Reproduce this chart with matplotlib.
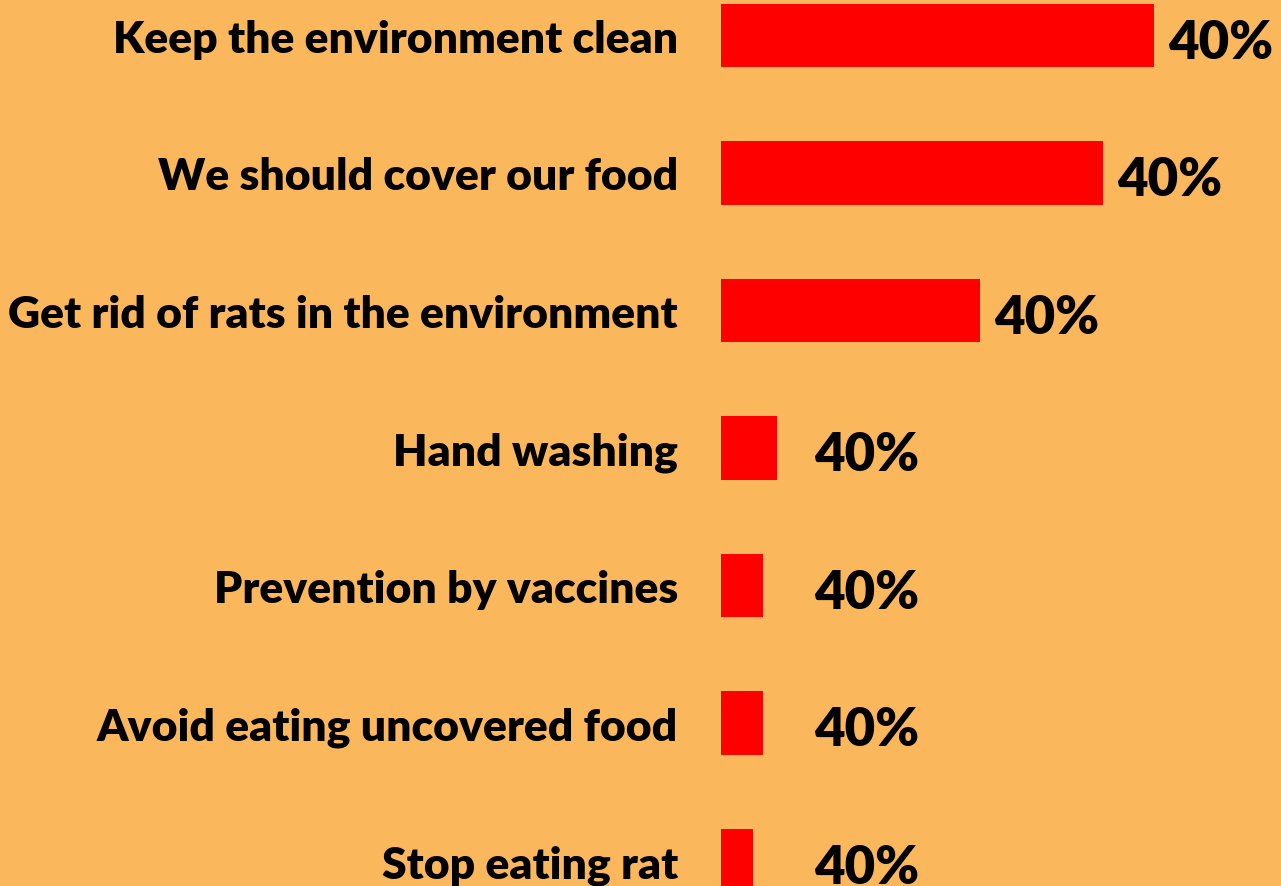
import matplotlib.pyplot as plt

# survey answers, top to bottom
categories = [
    "Keep the environment clean",
    "We should cover our food",
    "Get rid of rats in the environment",
    "Hand washing",
    "Prevention by vaccines",
    "Avoid eating uncovered food",
    "Stop eating rat",
]
values = [43.3, 38.2, 25.9, 5.6, 4.2, 4.2, 3.2]
value_labels = ["40%", "40%", "40%", "40%", "40%", "40%", "40%"]

BG = "#FBB75C"
BAR = "#FF0000"

fig = plt.figure(figsize=(12.81, 8.87), dpi=100, facecolor=BG)
ax = fig.add_axes([721 / 1281, 0, 1 - 721 / 1281, 1])
ax.set_facecolor(BG)

pos = list(range(len(categories)))
ax.barh(pos, values, height=0.46, color=BAR)

ax.set_xlim(0, 56)
ax.set_ylim(6.185, -0.265)

ax.set_yticks(pos)
ax.set_yticklabels(categories, fontsize=32, fontweight="heavy", family="Lato")
ax.tick_params(axis="y", length=0, pad=31)
ax.set_xticks([])
for s in ax.spines.values():
    s.set_visible(False)

for p, v, lab in zip(pos, values, value_labels):
    ax.text(max(v + 1.4, 9.3), p + 0.05, lab, fontsize=38, fontweight="heavy",
            family="Lato", va="center", ha="left", clip_on=False)

fig.savefig("out.png", dpi=100, facecolor=BG)
